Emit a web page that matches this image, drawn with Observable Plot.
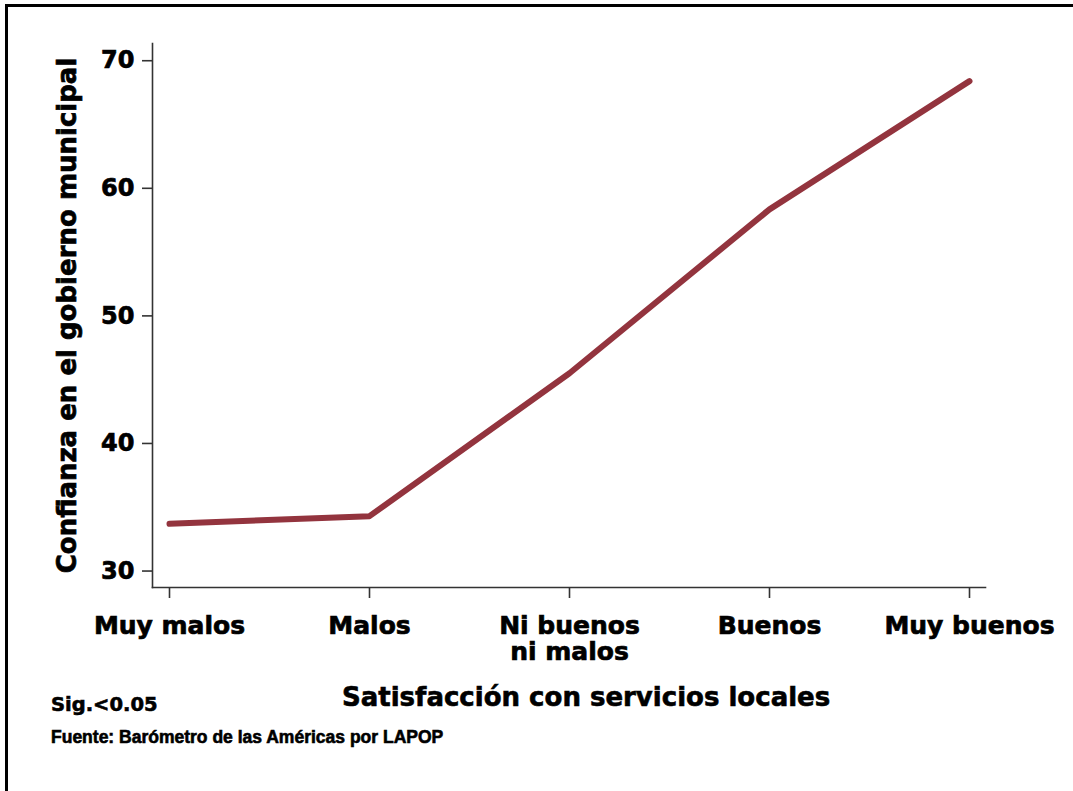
<!DOCTYPE html>
<html>
<head>
<meta charset="utf-8">
<script src="https://cdn.jsdelivr.net/npm/d3@7"></script>
<script src="https://cdn.jsdelivr.net/npm/@observablehq/plot@0.6"></script>
<style>
  html, body { margin: 0; padding: 0; background: #fff; }
  #page { position: relative; width: 1073px; height: 791px; overflow: hidden; background: #fff; }
  #border { position: absolute; left: 5px; top: 4px; width: 1100px; height: 820px;
            border-top: 3px solid #000; border-left: 3px solid #000; box-sizing: border-box; }
  #chart { position: absolute; left: 0; top: 0; }
  #chart svg g[aria-label$="tick label"] text, #chart svg g[aria-label$="label"] text { stroke: #000; stroke-width: 0.7px; }
  .note { position: absolute; font-family: "DejaVu Sans", sans-serif; font-weight: bold; color: #000; line-height: 1; white-space: nowrap; -webkit-text-stroke: 0.6px #000; }
</style>
</head>
<body>
<div id="page">
  <div id="border"></div>
  <div id="chart"></div>
  <div class="note" id="xtitle" style="left:342px; top:684px; font-size:26px;">Satisfacción con servicios locales</div>
  <div class="note" id="sig" style="left:51px; top:695px; font-size:19.5px;">Sig.&lt;0.05</div>
  <div class="note" id="src" style="left:51px; top:729px; font-size:17.5px; font-family:'Liberation Sans', Arial, sans-serif;">Fuente: Barómetro de las Américas por LAPOP</div>
</div>
<script>
const categories = ["Muy malos", "Malos", "Ni buenos ni malos", "Buenos", "Muy buenos"];
const tickLabels = ["Muy malos", "Malos", "Ni buenos\nni malos", "Buenos", "Muy buenos"];
const confianza = [33.7, 34.3, 45.5, 58.35, 68.4];
const yTicks = [30, 40, 50, 60, 70];
const yLabel = "Confianza en el gobierno municipal";

const data = categories.map((c, i) => ({cat: c, val: confianza[i]}));

const chart = Plot.plot({
  width: 1073,
  height: 680,
  marginLeft: 152,
  marginRight: 88,
  marginTop: 43,
  marginBottom: 93,
  style: {fontFamily: "DejaVu Sans, sans-serif", color: "#000", background: "transparent"},
  x: {type: "point", domain: categories, padding: 0.0825, axis: null},
  y: {domain: [28.71, 71.35], axis: null},
  marks: [
    Plot.frame({anchor: "left", stroke: "#333", strokeWidth: 1.6}),
    Plot.frame({anchor: "bottom", stroke: "#333", strokeWidth: 1.6}),
    Plot.axisY({
      ticks: yTicks, tickSize: 10, tickPadding: 8, label: null,
      fontSize: 24, fontWeight: "bold", stroke: "#333", strokeWidth: 1.6, fill: "#000"
    }),
    Plot.axisY({
      ticks: [], tickSize: 0, label: yLabel, labelAnchor: "center", labelOffset: 95, labelArrow: false,
      fontSize: 26, fontWeight: "bold", fill: "#000"
    }),
    Plot.axisX({
      tickSize: 11, tickPadding: 17, label: null,
      tickFormat: (d) => tickLabels[categories.indexOf(d)],
      fontSize: 25, fontWeight: "bold", lineHeight: 1.04, stroke: "#333", strokeWidth: 1.6, fill: "#000"
    }),
    Plot.line(data, {x: "cat", y: "val", stroke: "#93343e", strokeWidth: 6, strokeLinecap: "round", strokeLinejoin: "round"})
  ]
});
document.getElementById("chart").appendChild(chart);
</script>
</body>
</html>
